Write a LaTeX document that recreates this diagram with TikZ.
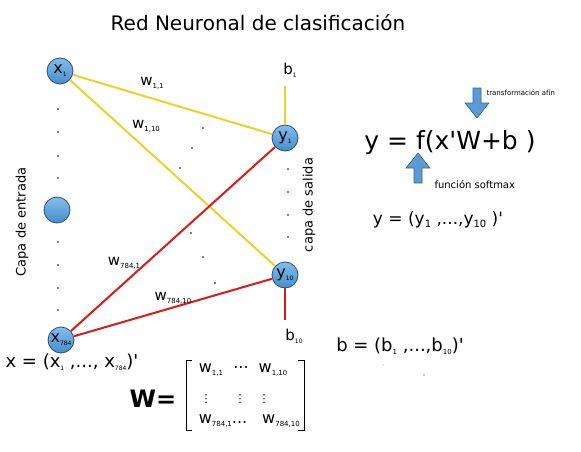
\documentclass[tikz,border=0pt]{standalone}
\usepackage{fontspec}
\setmainfont{DejaVu Sans}
\newcommand{\sbs}[2][6]{\raisebox{-0.35ex}{\fontsize{#1}{#1}\selectfont #2}}
\newcommand{\fs}[1]{\fontsize{#1}{#1}\selectfont}
\newcommand{\apos}{\textquotesingle}
\definecolor{edgeyel}{RGB}{240,208,40}
\definecolor{edgered}{RGB}{222,25,25}
\definecolor{ntop}{RGB}{130,190,235}
\definecolor{nbot}{RGB}{70,140,205}
\definecolor{nborder}{RGB}{40,80,125}
\definecolor{arrfill}{RGB}{91,155,213}
\definecolor{arrborder}{RGB}{55,100,150}
\begin{document}
\begin{tikzpicture}[x=1pt,y=-1pt,
  neuron/.style={circle,draw=nborder,line width=0.8pt,top color=ntop,bottom color=nbot,minimum size=26pt,inner sep=0pt,font=\fs{16}},
  yel/.style={draw=edgeyel,line width=2pt},
  redl/.style={draw=edgered,line width=2pt},
  wlab/.style={font=\fs{15},inner sep=0pt},
  mlab/.style={font=\fs{16},inner sep=0pt},
  dotn/.style={circle,fill=black,inner sep=0pt,minimum size=1.6pt},
  barr/.style={fill=arrfill,draw=arrborder,line width=0.6pt}]
\useasboundingbox (0,0) rectangle (581,452);
\node[font=\fs{20}] (title) at (258,23) {Red Neuronal de clasificación};

\node[neuron] (x1) at (60,71) {x\sbs{1}};
\node[neuron] (xm) at (57,210) {};
\node[neuron] (x784) at (61,340) {x\sbs{784}};
\node[neuron] (y1) at (285,138) {y\sbs{1}};
\node[neuron] (y10) at (285,275) {y\sbs{10}};

\foreach \i/\yy in {a/109,b/132,c/156,d/178,e/242,f/265,g/288,h/310}
  \node[dotn] (din\i) at (58,\yy) {};
\foreach \i/\yy in {a/169,b/192,c/215,d/237}
  \node[dotn] (dout\i) at (288,\yy) {};
\foreach \i/\xx/\yy in {a/203/128,b/192/148,c/180/168,d/191/233,e/203/257,f/215/283}
  \node[dotn] (dmid\i) at (\xx,\yy) {};

\draw[yel] (x1) -- (y1);
\draw[yel] (x1) -- (y10);
\draw[redl] (x784) -- (y1);
\draw[redl] (x784) -- (y10);

\node[font=\fs{15}] (b1) at (290,70) {b\sbs{1}};
\node[font=\fs{15}] (b10) at (294,336) {b\sbs{10}};
\draw[yel] (y1.north) -- ([yshift=-5pt]y1.north |- b1.south);
\draw[redl] (y10.south) -- ([yshift=5pt]y10.south |- b10.north);

\node[wlab] (w11) at (152,83) {w\sbs[7]{1,1}};
\node[wlab] (w110) at (146,126) {w\sbs[7]{1,10}};
\node[wlab] (w7841) at (124,263) {w\sbs[7]{784,1}};
\node[wlab] (w78410) at (173,298) {w\sbs[7]{784,10}};

\node[rotate=90,font=\fs{13}] (capin) at (22,222) {Capa de entrada};
\node[rotate=90,font=\fs{13}] (capout) at (309,205) {capa de salida};

% right side
\node[font=\fs{25}] (eq) at (450,143) {y = f(x\apos W+b )};
\draw[barr] (473,88) -- (481,88) -- (481,103) -- (489,103) -- (477,118) -- (465,103) -- (473,103) -- cycle;
\node[font=\fs{7},anchor=west] (taf) at (483,93) {transformación afín};
\draw[barr] (418,153) -- (430,168) -- (422,168) -- (422,183) -- (414,183) -- (414,168) -- (406,168) -- cycle;
\node[font=\fs{10},anchor=west] (fsm) at (431,185) {función softmax};
\node[font=\fs{17}] (yvec) at (438,220) {y = (y\sbs[10]{1} ,...,y\sbs[10]{10} )\apos};

\node[font=\fs{18}] (xvec) at (72,362) {x = (x\sbs{1} ,..., x\sbs{784})\apos};
\node[font=\fs{18}] (bvec) at (400,346) {b = (b\sbs[7]{1} ,...,b\sbs[7]{10})\apos};
\node[dotn,minimum size=1pt,fill=gray] (s1) at (383,365) {};
\node[dotn,minimum size=1.3pt] (s2) at (424,375) {};

\node[font=\bfseries\fs{24}] (Weq) at (153,399) {W=};
\draw[line width=0.8pt] (192,360) -- (186,360) -- (186,430) -- (192,430);
\draw[line width=0.8pt] (298,360) -- (304,360) -- (304,430) -- (298,430);
\node[mlab] (m11) at (211,370) {w\sbs[7]{1,1}};
\node[mlab] (m12) at (241,368) {...};
\node[mlab] (m13) at (273,370) {w\sbs[7]{1,10}};
\node[font=\fs{11}] (m21) at (206,399) {⋮};
\node[font=\fs{11}] (m22) at (240,399) {⋮};
\node[font=\fs{11}] (m23) at (264,399) {⋮};
\node[mlab] (m31) at (223,421) {w\sbs[7]{784,1}...};
\node[mlab] (m33) at (281,421) {w\sbs[7]{784,10}};
\end{tikzpicture}
\end{document}
